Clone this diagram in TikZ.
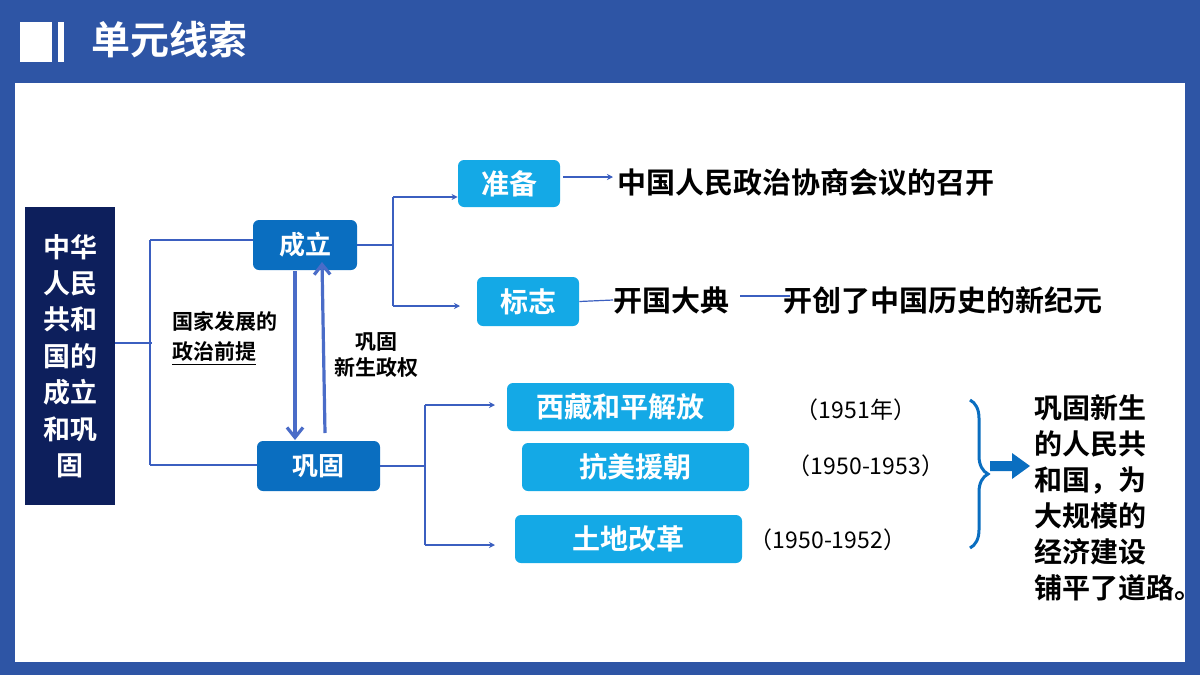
\documentclass[tikz,border=0pt]{standalone}
\usepackage{fontspec}
\usetikzlibrary{arrows.meta,decorations.pathreplacing}
\newfontfamily\cjk{Noto Sans CJK SC}[BoldFont={Noto Sans CJK SC Bold}]
\definecolor{frameblue}{HTML}{2E55A5}
\definecolor{navy}{HTML}{0D1F5C}
\definecolor{midblue}{HTML}{0A6EC0}
\definecolor{skyblue}{HTML}{14A9E6}
\definecolor{lineblue}{HTML}{3B5FC0}
\definecolor{arrowblue}{HTML}{4A6CC8}
\tikzset{
  mainbox/.style={fill=midblue, rounded corners=3pt, text=white, font=\cjk\bfseries\fontsize{13}{15}\selectfont},
  subbox/.style={fill=skyblue, rounded corners=3pt, text=white, font=\cjk\bfseries\fontsize{14}{16}\selectfont},
  plain/.style={font=\cjk\bfseries\fontsize{14.5}{16}\selectfont, inner sep=0pt},
  small/.style={font=\cjk\bfseries\fontsize{10.5}{13}\selectfont, inner sep=0pt, align=center},
  year/.style={font=\cjk\fontsize{11.5}{13}\selectfont, inner sep=0pt},
  link/.style={draw=lineblue, line width=0.6pt},
  linkarrow/.style={link, -{Stealth[length=3pt,width=3pt]}},
  bigarrow/.style={draw=arrowblue, line width=1.6pt, -{Straight Barb[length=5pt,width=8pt]}}
}
\begin{document}
\begin{tikzpicture}[x=0.5pt,y=-0.5pt]

% Frame
\fill[frameblue] (0,0) rectangle (1200,675);
\fill[white] (15,83) rectangle (1185,662);
\useasboundingbox (0,0) rectangle (1200,675);

% Title
\fill[white] (20,22) rectangle (52,62);
\fill[white] (58,22) rectangle (64,62);
\node[anchor=west, text=white, font=\cjk\bfseries\fontsize{19.5}{22}\selectfont] (title) at (84,40) {单元线索};

% Left box
\fill[navy] (25,207) rectangle (115,505);
\node[text=white, align=center, font=\cjk\bfseries\fontsize{13.5}{18.2}\selectfont] (topic) at (70,356) {中华\\人民\\共和\\国的\\成立\\和巩\\固};
\coordinate (topicR) at (115,343);

% Main boxes
\node[mainbox, minimum width=52pt, minimum height=25pt] (chengli) at (305,245) {成立};
\node[mainbox, minimum width=61.5pt, minimum height=25pt] (gonggu) at (318.5,466) {巩固};

% Sub boxes
\node[subbox, minimum width=51pt, minimum height=23.5pt] (zhunbei) at (509,183.5) {准备};
\node[subbox, minimum width=51pt, minimum height=24.5pt] (biaozhi) at (528,301.5) {标志};
\node[subbox, minimum width=113.5pt, minimum height=24pt] (xizang) at (620.5,407) {西藏和平解放};
\node[subbox, minimum width=113.5pt, minimum height=24pt] (kangmei) at (635.5,467) {抗美援朝};
\node[subbox, minimum width=113.5pt, minimum height=24pt] (tudi) at (628.5,539) {土地改革};

% Texts
\node[plain, anchor=west] (zhengxie) at (617,183) {中国人民政治协商会议的召开};
\node[plain, anchor=west] (kaiguo) at (613,300) {开国大典};
\node[plain, anchor=west] (kaichuang) at (783,300) {开创了中国历史的新纪元};
\node[year] (y1) at (856,410) {（1951年）};
\node[year] (y2) at (866,466) {（1950-1953）};
\node[year] (y3) at (828,540) {（1950-1952）};
\node[small, anchor=west] (fazhan) at (172,321) {国家发展的};
\node[small, anchor=west] (qianti) at (172,354) {\underline{政治前提}};
\node[small] (xinsheng) at (376,355) {巩固\\新生政权};
\node[font=\cjk\bfseries\fontsize{14}{18}\selectfont, align=left, anchor=north west, inner sep=0pt] (result) at (1034,394) {巩固新生\\的人民共\\和国，为\\大规模的\\经济建设\\铺平了道路。};

% Connectors
\draw[link] (topicR) -- (152,343);
\draw[link] (150,240) -- (150,465);
\draw[link] (150,240) -- (chengli.west |- 0,240);
\draw[link] (150,465) -- (gonggu.west |- 0,465);
\draw[link] (chengli.east) -- (393,245);
\draw[link] (393,197) -- (393,306);
\draw[linkarrow] (393,197) -- (zhunbei.west |- 0,197);
\draw[linkarrow] (393,306) -- (460,306);
\draw[link] (gonggu.east) -- (425,466);
\draw[link] (425,405) -- (425,545);
\draw[linkarrow] (425,405) -- (495,405);
\draw[linkarrow] (425,545) -- (495,545);
\draw[linkarrow] (563,177) -- (613,177);
\draw[link] (biaozhi.east) -- (kaiguo.west);
\draw[link] (740,296) -- (790,296);

% Up and down arrows
\draw[bigarrow] (295,271) -- (295,440);
\draw[bigarrow] (325,433) -- (322,262);

% Brace and fat arrow
\draw[midblue, line width=1.5pt, decorate, decoration={brace, amplitude=9pt}] (970,400) -- (970,548);
\fill[midblue] (990,461) -- (1012,461) -- (1012,453) -- (1030,466) -- (1012,479) -- (1012,471) -- (990,471) -- cycle;

\end{tikzpicture}
\end{document}
